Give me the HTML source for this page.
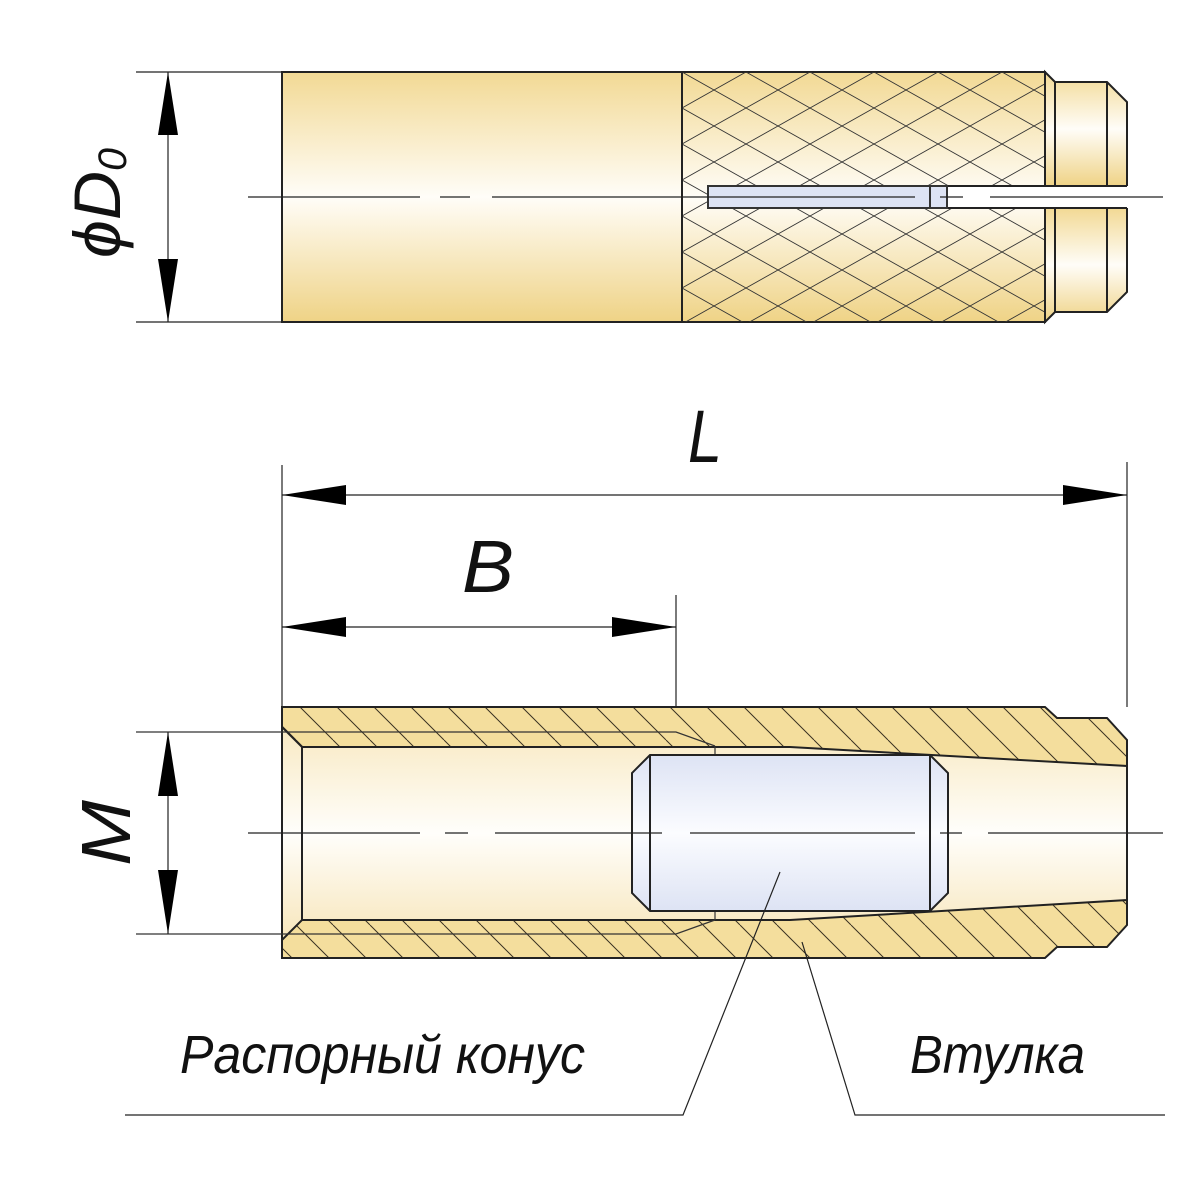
<!DOCTYPE html>
<html><head><meta charset="utf-8"><style>html,body{margin:0;padding:0;background:#fff}svg{display:block}</style></head>
<body>
<svg width="1200" height="1200" viewBox="0 0 1200 1200" xmlns="http://www.w3.org/2000/svg">
<defs>
<linearGradient id="gold" x1="0" y1="0" x2="0" y2="1">
<stop offset="0" stop-color="#f2d994"/><stop offset="0.5" stop-color="#fffdf8"/><stop offset="1" stop-color="#efd386"/></linearGradient>
<linearGradient id="bore" x1="0" y1="0" x2="0" y2="1">
<stop offset="0" stop-color="#f8e9c2"/><stop offset="0.5" stop-color="#fffefb"/><stop offset="1" stop-color="#f7e6bb"/></linearGradient>
<linearGradient id="blue" x1="0" y1="0" x2="0" y2="1">
<stop offset="0" stop-color="#dde3f4"/><stop offset="0.5" stop-color="#fbfcff"/><stop offset="1" stop-color="#dde3f4"/></linearGradient>
<pattern id="knurl" x="682" y="72" width="64" height="36" patternUnits="userSpaceOnUse">
<path d="M0 0L64 36M0 36L64 0" stroke="#333" stroke-width="0.9" fill="none"/>
</pattern>
<pattern id="hatch" x="0" y="0" width="37" height="37" patternUnits="userSpaceOnUse">
<path d="M0 0L37 37M-37 0L0 37M37 0L74 37" stroke="#3a3222" stroke-width="1" fill="none"/>
</pattern>
</defs>

<!-- TOP VIEW -->
<rect x="282" y="72" width="763" height="250" fill="url(#gold)" stroke="#222" stroke-width="2"/>
<rect x="682" y="72" width="363" height="250" fill="url(#knurl)"/>
<line x1="682" y1="72" x2="682" y2="322" stroke="#222" stroke-width="2"/>
<path d="M1045 72L1055 82L1107 82L1127 102L1127 186L1045 186Z" fill="url(#gold)" stroke="#222" stroke-width="2"/>
<path d="M1045 322L1055 312L1107 312L1127 292L1127 208L1045 208Z" fill="url(#gold)" stroke="#222" stroke-width="2"/>
<line x1="1055" y1="82" x2="1055" y2="312" stroke="#222" stroke-width="2"/>
<line x1="1107" y1="82" x2="1107" y2="186" stroke="#222" stroke-width="2"/>
<line x1="1107" y1="208" x2="1107" y2="312" stroke="#222" stroke-width="2"/>
<rect x="946" y="186" width="182" height="22" fill="#fff"/>
<line x1="946" y1="186" x2="1127" y2="186" stroke="#222" stroke-width="2"/>
<line x1="946" y1="208" x2="1127" y2="208" stroke="#222" stroke-width="2"/>
<rect x="708" y="186" width="239" height="22" fill="#dde3f4" stroke="#333" stroke-width="2"/>
<line x1="930" y1="186" x2="930" y2="208" stroke="#333" stroke-width="2"/>
<path d="M248 197H420M440 197H470M492 197H915M940 197H963M990 197H1163" stroke="#222" stroke-width="1.2"/>
<!-- D0 dim -->
<path d="M136 72H282M136 322H282M168 72V322" stroke="#222" stroke-width="1.2"/>
<path d="M168 72L158 135L178 135Z M168 322L158 259L178 259Z" fill="#000"/>
<text transform="translate(120,258) rotate(-90)" font-family="Liberation Sans,sans-serif" font-style="italic" font-weight="100" font-size="66" fill="#111" textLength="110" lengthAdjust="spacingAndGlyphs">ϕD<tspan font-size="40" dy="6">0</tspan></text>

<!-- L dim -->
<path d="M282 465V707M1127 462V707M282 495H1127" stroke="#222" stroke-width="1.2"/>
<path d="M282 495L346 485L346 505Z M1127 495L1063 485L1063 505Z" fill="#000"/>
<text x="688" y="462" font-family="Liberation Sans,sans-serif" font-style="italic" font-size="74" fill="#111" textLength="34" lengthAdjust="spacingAndGlyphs">L</text>
<!-- B dim -->
<path d="M282 627H676M676 595V934" stroke="#222" stroke-width="1.2"/>
<path d="M282 627L346 617L346 637Z M676 627L612 617L612 637Z" fill="#000"/>
<text x="462" y="592" font-family="Liberation Sans,sans-serif" font-style="italic" font-size="74" fill="#111" textLength="52" lengthAdjust="spacingAndGlyphs">B</text>

<!-- SECTION -->
<path d="M282 707H1045L1057 718H1107L1127 740V925L1107 947H1057L1045 958H282Z" fill="#f4de9d"/>
<path d="M282 707H1045L1057 718H1107L1127 740V925L1107 947H1057L1045 958H282Z" fill="url(#hatch)"/>
<path d="M282 727L302 747H790L1127 766V900L790 920H302L282 940Z" fill="url(#bore)" stroke="#222" stroke-width="2"/>
<path d="M282 707H1045L1057 718H1107L1127 740V925L1107 947H1057L1045 958H282Z" fill="none" stroke="#222" stroke-width="2"/>
<line x1="302" y1="747" x2="302" y2="920" stroke="#222" stroke-width="2"/>
<path d="M136 732H676L715 746M136 934H676L715 920M715 747V755M715 911V920" stroke="#333" stroke-width="1.2" fill="none"/>
<path d="M650 755H930L948 773V893L930 911H650L632 893V773Z" fill="url(#blue)" stroke="#222" stroke-width="2"/>
<path d="M650 755V911M930 755V911" stroke="#222" stroke-width="2"/>
<path d="M248 833H420M445 833H468M495 833H662M690 833H915M940 833H962M988 833H1163" stroke="#222" stroke-width="1.2"/>
<!-- M dim -->
<path d="M168 732V934" stroke="#222" stroke-width="1.2"/>
<path d="M168 732L158 796L178 796Z M168 934L158 870L178 870Z" fill="#000"/>
<text transform="translate(130,866) rotate(-90)" font-family="Liberation Sans,sans-serif" font-style="italic" font-weight="100" font-size="70" fill="#111" textLength="66" lengthAdjust="spacingAndGlyphs">M</text>

<!-- leaders -->
<path d="M780 872L683 1115H125M802 942L855 1115H1165" stroke="#222" stroke-width="1.2" fill="none"/>
<text x="180" y="1073" font-family="Liberation Sans,sans-serif" font-style="italic" font-size="54" fill="#111" textLength="405" lengthAdjust="spacingAndGlyphs">Распорный конус</text>
<text x="910" y="1073" font-family="Liberation Sans,sans-serif" font-style="italic" font-size="54" fill="#111" textLength="175" lengthAdjust="spacingAndGlyphs">Втулка</text>
</svg>
</body></html>
